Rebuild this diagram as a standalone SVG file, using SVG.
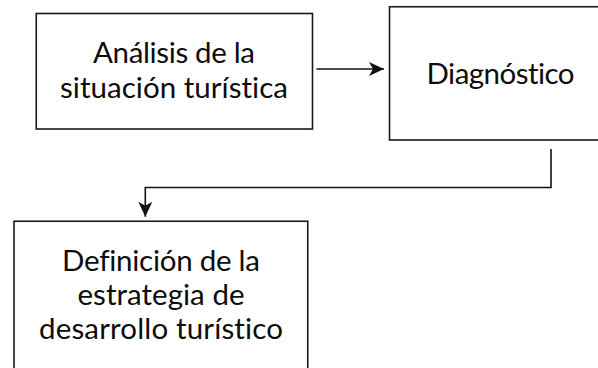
<svg xmlns="http://www.w3.org/2000/svg" width="598" height="368" viewBox="0 0 598 368">
  <style>
    .box { fill: #ffffff; stroke: #1a1a1a; stroke-width: 1.6; }
    .lbl { font-family: Lato, "Liberation Sans", sans-serif; font-size: 29.5px; fill: #0d0d0d; text-anchor: middle; font-variant-ligatures: none; font-feature-settings: "liga" 0; }
    .conn { fill: none; stroke: #111111; stroke-width: 1.6; }
  </style>
  <defs>
    <marker id="arrow" markerUnits="userSpaceOnUse" markerWidth="18" markerHeight="18" viewBox="-16 -8 18 16" refX="0" refY="0" orient="auto">
      <path d="M0,0 L-15,-7 L-11,0 L-15,7 Z" fill="#111111"/>
    </marker>
  </defs>
  <rect width="598" height="368" fill="#ffffff"/>
  <g id="node-analisis">
    <rect class="box" x="36.25" y="13.5" width="276.25" height="115.5"/>
    <text class="lbl" x="174" y="63" textLength="162" lengthAdjust="spacing">Análisis de la</text>
    <text class="lbl" x="174" y="97.5" textLength="228" lengthAdjust="spacing">situación turística</text>
  </g>
  <g id="node-diagnostico">
    <rect class="box" x="389.5" y="6.75" width="240" height="133.25"/>
    <text class="lbl" x="500.5" y="83.5" textLength="148" lengthAdjust="spacing">Diagnóstico</text>
  </g>
  <g id="node-definicion">
    <rect class="box" x="14" y="221.25" width="293.75" height="160"/>
    <text class="lbl" x="161" y="270.5" textLength="198" lengthAdjust="spacing">Definición de la</text>
    <text class="lbl" x="161" y="305" textLength="167" lengthAdjust="spacing">estrategia de</text>
    <text class="lbl" x="161" y="339" textLength="244" lengthAdjust="spacing">desarrollo turístico</text>
  </g>
  <g id="connectors">
    <path class="conn" d="M316.5,69 L384,69" marker-end="url(#arrow)"/>
    <path class="conn" d="M551,149 L551,187.5 L145.3,187.5 L145.3,216.7" marker-end="url(#arrow)"/>
  </g>
</svg>
